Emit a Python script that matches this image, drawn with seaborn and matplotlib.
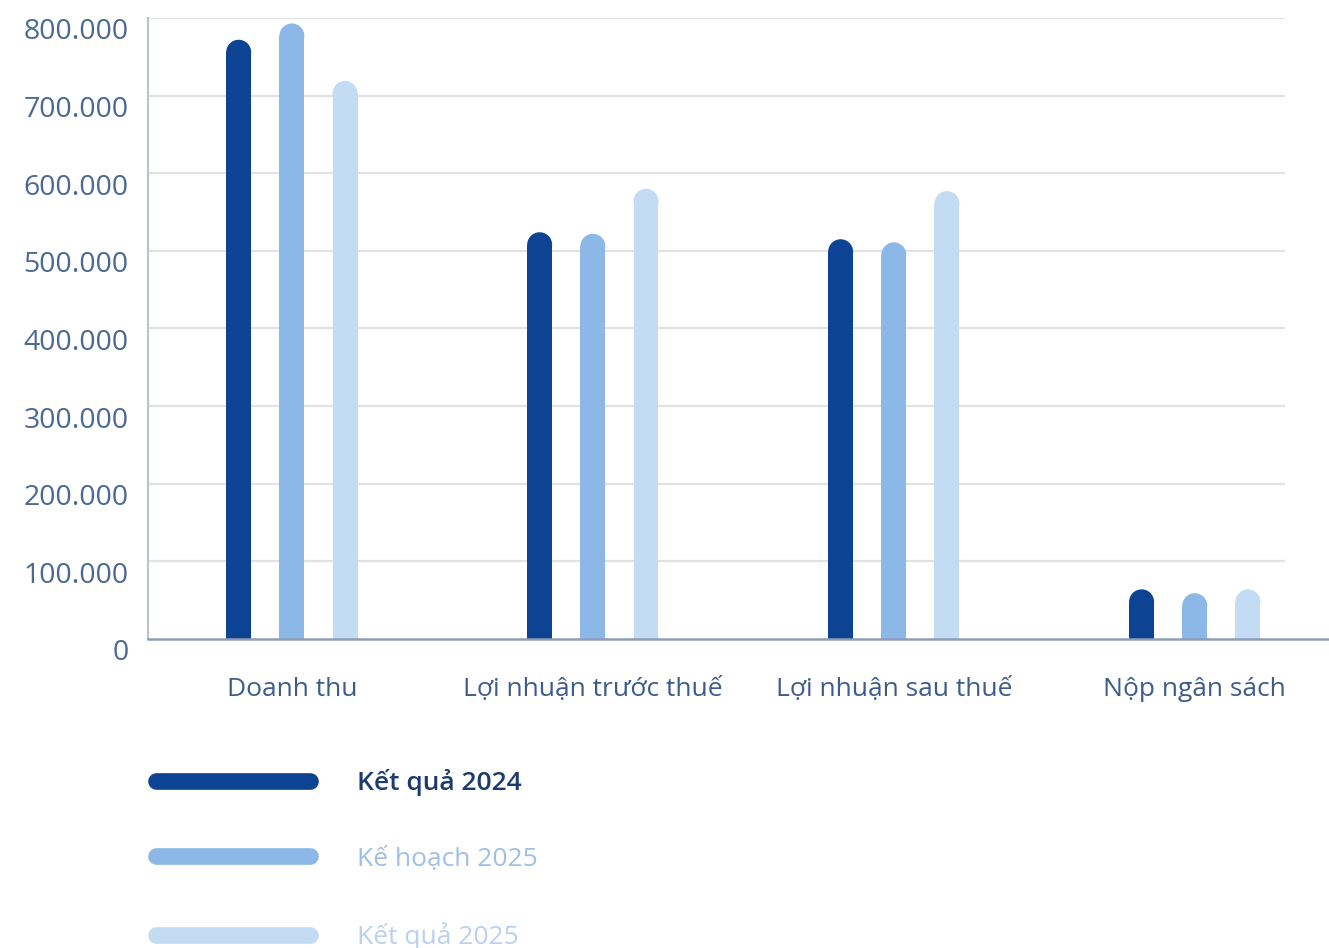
import matplotlib
matplotlib.use("Agg")
import matplotlib.pyplot as plt
import matplotlib.transforms as mtransforms
from matplotlib.lines import Line2D
from matplotlib.patches import Ellipse
import seaborn as sns
import pandas as pd

# ---- data ----
categories = ["Doanh thu", "Lợi nhuận trước thuế", "Lợi nhuận sau thuế", "Nộp ngân sách"]
series_names = ["Kết quả 2024", "Kế hoạch 2025", "Kết quả 2025"]
ket_qua_2024 = [772000, 524000, 515000, 64000]
ke_hoach_2025 = [793000, 522000, 511000, 59000]
ket_qua_2025 = [719000, 580000, 577000, 64000]
y_ticks = [0, 100000, 200000, 300000, 400000, 500000, 600000, 700000, 800000]
y_tick_labels = ["0", "100.000", "200.000", "300.000", "400.000", "500.000", "600.000", "700.000", "800.000"]

colors = ["#0c4493", "#8bb8e6", "#c4dcf3"]
legend_text_colors = ["#1d3b6c", "#a0bfe4", "#b9d1ee"]

sns.set_theme(style="white")
plt.rcParams["font.family"] = ["Open Sans", "DejaVu Sans"]

rows = []
for name, vals in zip(series_names, [ket_qua_2024, ke_hoach_2025, ket_qua_2025]):
    for c, v in zip(categories, vals):
        rows.append({"cat": c, "series": name, "value": v})
df = pd.DataFrame(rows)

W, H = 1329, 948
fig = plt.figure(figsize=(W / 100, H / 100), dpi=100)
ax_left, ax_right, ax_top, ax_bottom = 148, 1329, 18, 639
ax = fig.add_axes([ax_left / W, (H - ax_bottom) / H, (ax_right - ax_left) / W, (ax_bottom - ax_top) / H])

sns.barplot(data=df, x="cat", y="value", hue="series", order=categories, hue_order=series_names,
            palette=colors, width=0.53, gap=0.53, saturation=1, ax=ax, legend=False,
            linewidth=0, zorder=3)

xmin, xmax = -0.478, 3.446
ymin, ymax = 0, 800000
ax.set_xlim(xmin, xmax)
ax.set_ylim(ymin, ymax)

px_per_x = (ax_right - ax_left) / (xmax - xmin)
px_per_y = (ax_bottom - ax_top) / (ymax - ymin)

# rounded tops
for p in list(ax.patches):
    h = p.get_height()
    if h <= 0:
        continue
    x0, w = p.get_x(), p.get_width()
    ry = (w / 2) * px_per_x / px_per_y
    p.set_height(h - ry)
    e = Ellipse((x0 + w / 2, h - ry), w, 2 * ry, facecolor=p.get_facecolor(), edgecolor="none",
                linewidth=0, zorder=3)
    ax.add_patch(e)

# gridlines
grid_end = (1285 - ax_left) / px_per_x + xmin
ax.hlines(y_ticks[1:], xmin, grid_end, color="#e2e2e2", lw=1.6, zorder=1)

for s in ["top", "right"]:
    ax.spines[s].set_visible(False)
ax.spines["left"].set_color("#bcc3cd")
ax.spines["left"].set_linewidth(1.5)
ax.spines["bottom"].set_color("#8d9db8")
ax.spines["bottom"].set_linewidth(1.8)
ax.spines["bottom"].set_zorder(4)

ax.set_yticks(y_ticks)
ax.set_yticklabels(y_tick_labels, fontsize=20.5, color="#4c6993")
ax.tick_params(axis="y", length=0, pad=14)
ax.tick_params(axis="x", length=0, pad=27, labelsize=19, labelcolor="#3d5c89")
ax.set_xlabel("")
ax.set_ylabel("")
offset = mtransforms.ScaledTranslation(0, -11 / 100, fig.dpi_scale_trans)
for lab in ax.get_yticklabels():
    lab.set_transform(lab.get_transform() + offset)

# legend
handles = [Line2D([0], [0], color=c, lw=12, solid_capstyle="round") for c in colors]
leg = fig.legend(handles, series_names, loc="upper left",
                 bbox_to_anchor=(156 / W, 1 - 769 / H), bbox_transform=fig.transFigure,
                 frameon=False, fontsize=19, handlelength=5.85, handletextpad=1.75,
                 labelspacing=1.92, borderpad=0, borderaxespad=0)
for t, c in zip(leg.get_texts(), legend_text_colors):
    t.set_color(c)
leg.get_texts()[0].set_fontweight("semibold")

fig.savefig("out.png", dpi=100)
